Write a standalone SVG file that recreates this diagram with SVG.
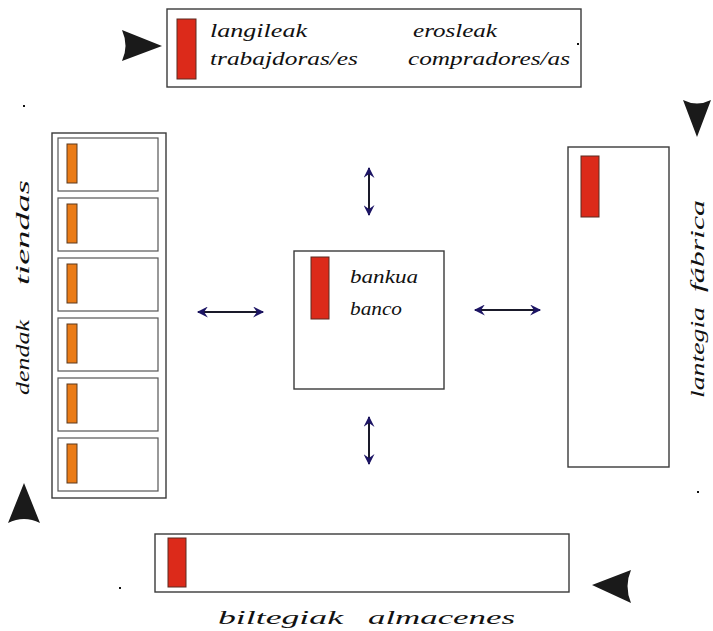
<svg xmlns="http://www.w3.org/2000/svg" width="713" height="631" viewBox="0 0 713 631">
<defs>
<style>
.box{fill:#fff;stroke:#3a3a3a;stroke-width:1.4}
.cell{fill:#fff;stroke:#555;stroke-width:1.2}
.red{fill:#dc2a1a;stroke:#5a2a20;stroke-width:1}
.org{fill:#ea7b17;stroke:#5a3a20;stroke-width:1}
.t{font-family:"Liberation Serif","DejaVu Serif",serif;font-style:italic;font-size:19px;fill:#111}
.big{fill:#1a1a1a}
.conn{stroke:#1a1a2a;stroke-width:2;fill:none;marker-start:url(#ah);marker-end:url(#ah)}
.dot{fill:#111}
</style>
<marker id="ah" viewBox="0 0 10 10" refX="9" refY="5" markerUnits="userSpaceOnUse" markerWidth="13" markerHeight="11" orient="auto-start-reverse">
<path d="M0,0 L10,5 L0,10 L3.5,5 Z" fill="#1c1464"/>
</marker>
</defs>
<g id="workers">
<rect class="box" x="167" y="9" width="414" height="78"/>
<rect class="red" x="177" y="19" width="19" height="60"/>
<text class="t" x="210" y="37" textLength="97" lengthAdjust="spacingAndGlyphs">langileak</text>
<text class="t" x="210" y="65" textLength="148" lengthAdjust="spacingAndGlyphs">trabajdoras/es</text>
<text class="t" x="413" y="37" textLength="84" lengthAdjust="spacingAndGlyphs">erosleak</text>
<text class="t" x="408" y="65" textLength="162" lengthAdjust="spacingAndGlyphs">compradores/as</text>
</g>
<g id="shops">
<rect class="box" x="52" y="133" width="114" height="365"/>
<rect class="cell" x="58" y="138" width="100" height="53"/>
<rect class="org" x="67" y="144" width="10" height="39"/>
<rect class="cell" x="58" y="198" width="100" height="53"/>
<rect class="org" x="67" y="204" width="10" height="39"/>
<rect class="cell" x="58" y="258" width="100" height="53"/>
<rect class="org" x="67" y="264" width="10" height="39"/>
<rect class="cell" x="58" y="318" width="100" height="53"/>
<rect class="org" x="67" y="324" width="10" height="39"/>
<rect class="cell" x="58" y="378" width="100" height="53"/>
<rect class="org" x="67" y="384" width="10" height="39"/>
<rect class="cell" x="58" y="438" width="100" height="53"/>
<rect class="org" x="67" y="444" width="10" height="39"/>
<text class="t" transform="translate(29,395) rotate(-90)" textLength="75" lengthAdjust="spacingAndGlyphs">dendak</text>
<text class="t" transform="translate(29,285) rotate(-90)" textLength="105" lengthAdjust="spacingAndGlyphs">tiendas</text>
</g>
<g id="bank">
<rect class="box" x="294" y="251" width="150" height="138"/>
<rect class="red" x="311" y="257" width="18" height="62"/>
<text class="t" x="350" y="283" textLength="68" lengthAdjust="spacingAndGlyphs">bankua</text>
<text class="t" x="350" y="315" textLength="52" lengthAdjust="spacingAndGlyphs">banco</text>
</g>
<g id="factory">
<rect class="box" x="568" y="147" width="101" height="320"/>
<rect class="red" x="581" y="156" width="18" height="61"/>
<text class="t" transform="translate(704,398) rotate(-90)" textLength="91" lengthAdjust="spacingAndGlyphs">lantegia</text>
<text class="t" transform="translate(704,292) rotate(-90)" textLength="92" lengthAdjust="spacingAndGlyphs">fábrica</text>
</g>
<g id="warehouses">
<rect class="box" x="155" y="534" width="414" height="58"/>
<rect class="red" x="168" y="538" width="18" height="49"/>
<text class="t" x="218" y="624" textLength="125" lengthAdjust="spacingAndGlyphs">biltegiak</text>
<text class="t" x="368" y="624" textLength="147" lengthAdjust="spacingAndGlyphs">almacenes</text>
</g>
<g id="connectors">
<line class="conn" x1="369" y1="168" x2="369" y2="215"/>
<line class="conn" x1="369" y1="417" x2="369" y2="464"/>
<line class="conn" x1="198" y1="312" x2="263" y2="312"/>
<line class="conn" x1="475" y1="310" x2="540" y2="310"/>
<path class="big" d="M122,30 L162,46 L122,61 Q129,46 122,30 Z"/>
<path class="big" d="M683,100 Q697,107 711,100 L697,137 Z"/>
<path class="big" d="M8,523 L24,483 L40,523 Q24,515 8,523 Z"/>
<path class="big" d="M631,570 Q624,586 631,603 L592,585 Z"/>
</g>
<rect class="dot" x="23" y="105" width="2" height="2"/>
<rect class="dot" x="577" y="43" width="2" height="2"/>
<rect class="dot" x="697" y="491" width="2" height="2"/>
<rect class="dot" x="119" y="587" width="2" height="2"/>
</svg>
